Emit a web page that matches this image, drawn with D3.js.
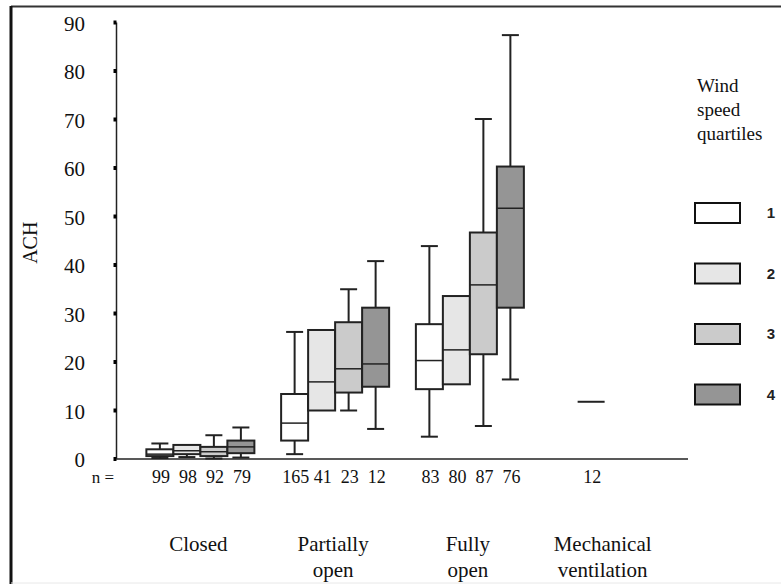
<!DOCTYPE html>
<html>
<head>
<meta charset="utf-8">
<script src="https://cdn.jsdelivr.net/npm/d3@7"></script>
<style>
  body { margin: 0; background: #fff; }
  .serif { font-family: "Liberation Serif", "Times New Roman", Times, serif; fill: #111; }
  .sans { font-family: "Liberation Sans", Arial, Helvetica, sans-serif; fill: #222; font-weight: bold; }
</style>
</head>
<body>
<div class="canvas"></div>
<script>
// data
const groups = ['Closed', 'Partially open', 'Fully open', 'Mechanical ventilation'];
const quartiles = ['1', '2', '3', '4'];
const yTicks = [0, 10, 20, 30, 40, 50, 60, 70, 80, 90];

// [group, quartile, min, q1, median, q3, max, n]
const boxes = [
  ['Closed', '1', 0.2, 0.6, 1.0, 2.0, 3.2, 99],
  ['Closed', '2', 0.4, 1.0, 1.7, 2.9, 2.9, 98],
  ['Closed', '3', 0.1, 0.6, 1.5, 2.5, 4.9, 92],
  ['Closed', '4', 0.3, 1.2, 2.5, 3.8, 6.5, 79],
  ['Partially open', '1', 1.0, 3.8, 7.4, 13.4, 26.2, 165],
  ['Partially open', '2', 10.0, 10.0, 15.9, 26.6, 26.6, 41],
  ['Partially open', '3', 10.0, 13.7, 18.6, 28.2, 35.0, 23],
  ['Partially open', '4', 6.2, 14.9, 19.6, 31.2, 40.8, 12],
  ['Fully open', '1', 4.6, 14.4, 20.3, 27.8, 43.9, 83],
  ['Fully open', '2', 15.4, 15.4, 22.5, 33.6, 33.6, 80],
  ['Fully open', '3', 6.8, 21.6, 35.9, 46.7, 70.1, 87],
  ['Fully open', '4', 16.4, 31.2, 51.7, 60.3, 87.4, 76],
  ['Mechanical ventilation', '2', 11.8, 11.8, 11.8, 11.8, 11.8, 12]
];

const groupLabels = [['Closed'], ['Partially', 'open'], ['Fully', 'open'], ['Mechanical', 'ventilation']];
const fills = ['#ffffff', '#e6e6e6', '#cbcbcb', '#959595'];

const dims = { width: 781, height: 584 };

const svg = d3.select('.canvas')
  .append('svg')
  .attr('width', dims.width)
  .attr('height', dims.height);

// frame round the figure
svg.append('line').attr('x1', 11).attr('x2', 781).attr('y1', 6.5).attr('y2', 6.5)
  .attr('stroke', '#333').attr('stroke-width', 2);
svg.append('line').attr('x1', 11).attr('x2', 11).attr('y1', 6).attr('y2', 584)
  .attr('stroke', '#111').attr('stroke-width', 3);
svg.append('line').attr('x1', 11).attr('x2', 781).attr('y1', 583).attr('y2', 583)
  .attr('stroke', '#e8e8e8').attr('stroke-width', 1);

// scales
const y = d3.scaleLinear().domain([0, 90]).range([459, 22.5]);
const x0 = d3.scaleBand().domain(groups).range([133, 672]);
const x1 = d3.scaleBand().domain(quartiles).range([0, 108]);
const colour = d3.scaleOrdinal().domain(quartiles).range(fills);

const boxX = d => x0(d[0]) + x0.bandwidth() / 2 - 54 + x1(d[1]);
const bw = x1.bandwidth();
const capW = 17;

// y axis
const yAxis = d3.axisLeft(y).tickValues(yTicks).tickSize(0).tickPadding(31);
const yG = svg.append('g').attr('transform', 'translate(116,0)').call(yAxis);
yG.select('.domain').remove();
yG.attr('font-family', null).attr('font-size', null);
yG.selectAll('text').attr('class', 'serif').style('font-size', '21px').attr('dy', '0.36em');
svg.append('line').attr('x1', 116.5).attr('x2', 116.5).attr('y1', y(90)).attr('y2', y(0))
  .attr('stroke', '#222').attr('stroke-width', 1.5);
svg.selectAll('.ytick').data(yTicks).enter().append('rect')
  .attr('x', 113.5).attr('y', d => y(d) - 2).attr('width', 3).attr('height', 4).attr('fill', '#000');

// x baseline
svg.append('line').attr('x1', 116).attr('x2', 688).attr('y1', y(0)).attr('y2', y(0))
  .attr('stroke', '#222').attr('stroke-width', 1.5);

svg.append('text').attr('class', 'serif')
  .attr('transform', `translate(37, ${y(45) + 2}) rotate(-90)`)
  .attr('text-anchor', 'middle')
  .style('font-size', '20px')
  .text('ACH');

// boxes
const box = svg.selectAll('.box').data(boxes).enter().append('g').attr('class', 'box');

box.append('line')
  .attr('x1', d => boxX(d) + bw / 2).attr('x2', d => boxX(d) + bw / 2)
  .attr('y1', d => y(d[6])).attr('y2', d => y(d[5]))
  .attr('stroke', '#222').attr('stroke-width', 2);
box.append('line')
  .attr('x1', d => boxX(d) + bw / 2).attr('x2', d => boxX(d) + bw / 2)
  .attr('y1', d => y(d[3])).attr('y2', d => y(d[2]))
  .attr('stroke', '#222').attr('stroke-width', 2);
box.filter(d => d[6] > d[5]).append('line')
  .attr('x1', d => boxX(d) + bw / 2 - capW / 2).attr('x2', d => boxX(d) + bw / 2 + capW / 2)
  .attr('y1', d => y(d[6])).attr('y2', d => y(d[6]))
  .attr('stroke', '#222').attr('stroke-width', 2);
box.filter(d => d[2] < d[3]).append('line')
  .attr('x1', d => boxX(d) + bw / 2 - capW / 2).attr('x2', d => boxX(d) + bw / 2 + capW / 2)
  .attr('y1', d => y(d[2])).attr('y2', d => y(d[2]))
  .attr('stroke', '#222').attr('stroke-width', 2);
box.filter(d => d[5] > d[3]).append('rect')
  .attr('x', d => boxX(d)).attr('width', bw)
  .attr('y', d => y(d[5])).attr('height', d => y(d[3]) - y(d[5]))
  .attr('fill', d => colour(d[1]))
  .attr('stroke', '#222').attr('stroke-width', 2);
box.append('line')
  .attr('x1', d => boxX(d)).attr('x2', d => boxX(d) + bw)
  .attr('y1', d => y(d[4])).attr('y2', d => y(d[4]))
  .attr('stroke', '#222').attr('stroke-width', d => d[5] > d[3] ? 1.5 : 2);

// n counts
svg.append('text').attr('class', 'serif').attr('x', 114).attr('y', 483).attr('text-anchor', 'end')
  .style('font-size', '17px').text('n =');
svg.selectAll('.n').data(boxes).enter().append('text').attr('class', 'serif')
  .attr('x', d => boxX(d) + bw / 2 + 1).attr('y', 483)
  .attr('text-anchor', 'middle').style('font-size', '18px')
  .text(d => d[7]);

// category labels
const cat = svg.selectAll('.cat').data(groups).enter().append('text').attr('class', 'serif')
  .attr('text-anchor', 'middle').style('font-size', '21px')
  .attr('x', d => x0(d) + x0.bandwidth() / 2 - 2)
  .attr('y', 551);
cat.selectAll('tspan').data((d, i) => groupLabels[i]).enter().append('tspan')
  .attr('x', function () { return this.parentNode.getAttribute('x'); })
  .attr('dy', (d, i) => i === 0 ? 0 : 26)
  .text(d => d);

// legend
const legendGroup = svg.append('g').attr('transform', 'translate(694, 0)');
legendGroup.selectAll('.lt').data(['Wind', 'speed', 'quartiles']).enter().append('text')
  .attr('class', 'serif')
  .attr('x', 3).attr('y', (d, i) => 92 + i * 24)
  .style('font-size', '19px').text(d => d);
const leg = legendGroup.selectAll('.li').data(quartiles).enter().append('g')
  .attr('transform', (d, i) => `translate(0, ${202 + i * 60.5})`);
leg.append('rect').attr('x', 1).attr('y', 1).attr('width', 45).attr('height', 20)
  .attr('fill', d => colour(d)).attr('stroke', '#111').attr('stroke-width', 2);
leg.append('text').attr('class', 'sans')
  .attr('x', 77).attr('y', 16).attr('text-anchor', 'middle')
  .style('font-size', '15px')
  .text(d => d);
</script>
</body>
</html>
